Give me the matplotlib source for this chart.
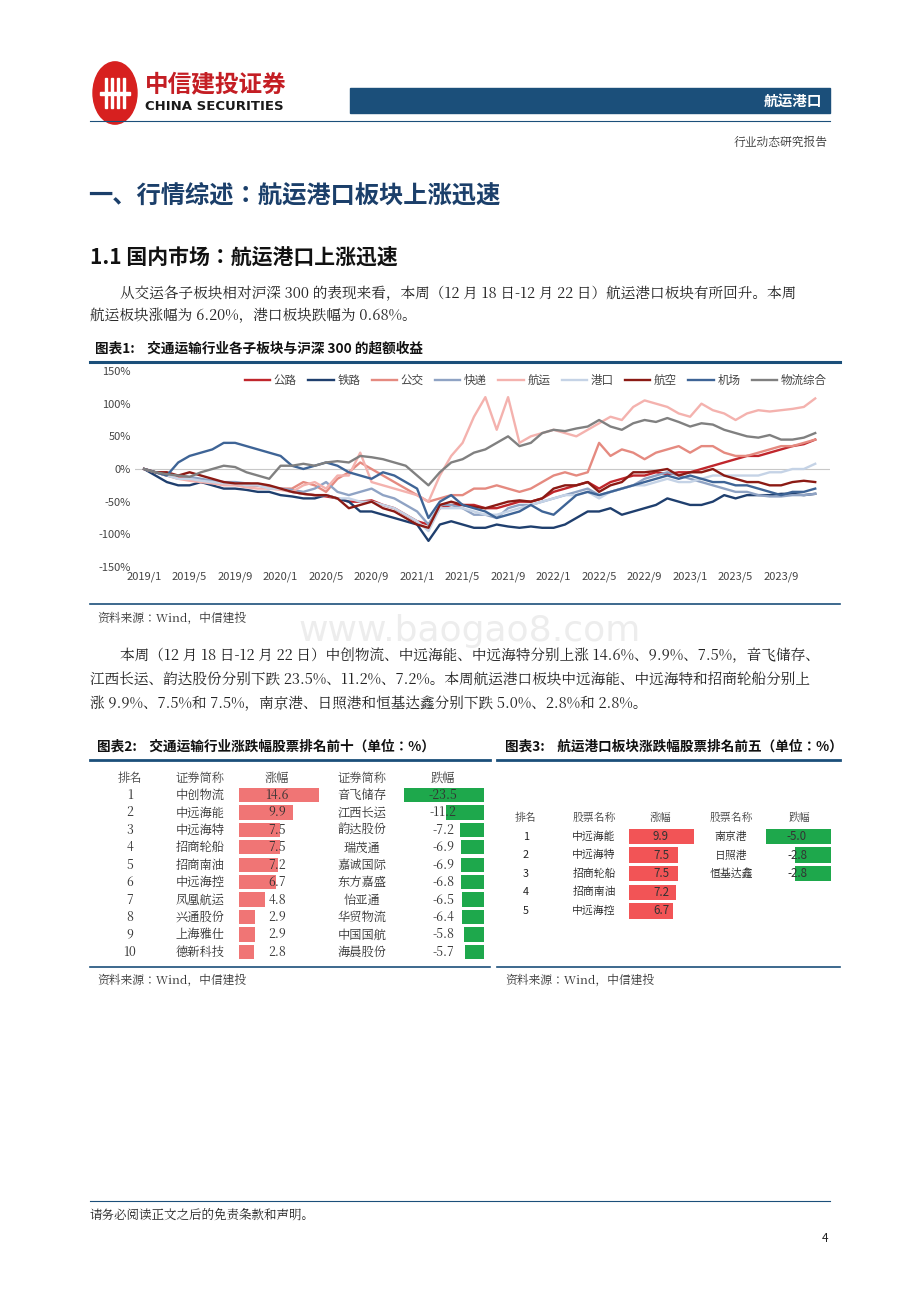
import glob
import matplotlib
matplotlib.use("Agg")
import matplotlib.pyplot as plt
from matplotlib import font_manager as fm
from matplotlib.lines import Line2D
from matplotlib.patches import Circle, Rectangle

def _reg(pattern, fallback):
    files = glob.glob("/usr/share/fonts/**/" + pattern, recursive=True)
    for f in files:
        try:
            fm.fontManager.addfont(f)
            return fm.FontProperties(fname=f).get_name()
        except Exception:
            pass
    return fallback

SANS = _reg("NotoSansCJK-Regular.ttc", "Noto Sans CJK SC")
_reg("NotoSansCJK-Bold.ttc", SANS)
SERIF = _reg("NotoSerifCJK-Regular.ttc", SANS)
_reg("NotoSerifCJK-Bold.ttc", SERIF)
plt.rcParams["font.family"] = [SANS, "DejaVu Sans"]

# ---------------- data ----------------
months = list(range(60))  # 2019/1 .. 2023/12
xtick_pos = [0, 4, 8, 12, 16, 20, 24, 28, 32, 36, 40, 44, 48, 52, 56]
xtick_labels = ["2019/1", "2019/5", "2019/9", "2020/1", "2020/5", "2020/9", "2021/1", "2021/5",
                "2021/9", "2022/1", "2022/5", "2022/9", "2023/1", "2023/5", "2023/9"]
ytick_vals = [-150, -100, -50, 0, 50, 100, 150]

gonglu = [0,-5,-10,-12,-15,-20,-22,-22,-22,-25,-25,-28,-30,-35,-38,-40,-42,-45,-50,-50,-48,-55,-60,-70,-80,-85,-60,-55,-55,-55,-60,-60,-55,-50,-50,-45,-35,-30,-25,-20,-30,-20,-15,-10,-10,-5,-8,-5,-5,0,5,10,15,20,20,25,30,35,38,45]
tielu = [0,-10,-20,-25,-25,-20,-25,-30,-30,-32,-35,-35,-40,-42,-45,-45,-40,-45,-50,-65,-65,-70,-75,-80,-85,-110,-85,-80,-85,-90,-90,-85,-88,-90,-88,-90,-90,-85,-75,-65,-65,-60,-70,-65,-60,-55,-45,-50,-55,-55,-50,-40,-45,-40,-40,-40,-38,-38,-40,-38]
gongjiao = [0,-5,-10,-15,-15,-18,-20,-20,-22,-22,-25,-28,-30,-30,-20,-25,-35,-15,-5,10,0,-10,-20,-30,-40,-50,-45,-40,-40,-30,-30,-25,-30,-35,-30,-20,-10,-5,-10,-5,40,20,30,25,15,25,30,35,25,35,35,25,20,20,25,30,35,35,40,45]
kuaidi = [0,-5,-10,-10,-12,-15,-18,-20,-20,-22,-25,-30,-30,-32,-35,-30,-20,-35,-40,-35,-30,-40,-45,-55,-65,-85,-55,-55,-60,-70,-70,-75,-60,-55,-55,-50,-45,-40,-35,-30,-40,-35,-30,-25,-15,-10,-5,-10,-15,-20,-25,-30,-35,-35,-40,-42,-42,-40,-40,-38]
hangyun = [0,-5,-8,-15,-18,-20,-22,-25,-25,-28,-30,-30,-32,-35,-25,-20,-30,-10,-10,25,-20,-25,-30,-35,-40,-50,-10,20,40,80,110,60,110,40,50,55,60,55,50,60,70,80,75,95,105,100,95,85,80,100,90,85,75,85,90,88,90,92,95,108]
gangkou = [0,-5,-10,-15,-15,-18,-20,-22,-22,-25,-25,-30,-30,-35,-38,-40,-40,-45,-45,-50,-50,-55,-60,-70,-80,-95,-60,-60,-60,-65,-70,-70,-65,-60,-55,-50,-45,-40,-40,-35,-45,-35,-30,-25,-25,-20,-15,-20,-20,-15,-10,-10,-10,-10,-10,-5,-5,0,0,8]
hangkong = [0,-5,-5,-10,-5,-10,-15,-20,-22,-22,-22,-25,-30,-35,-38,-40,-40,-45,-60,-55,-50,-60,-65,-75,-85,-90,-55,-50,-55,-58,-60,-55,-50,-48,-50,-45,-30,-25,-25,-20,-35,-25,-20,-5,-5,-3,0,-10,-5,-5,0,-10,-15,-20,-20,-25,-25,-20,-18,-20]
jichang = [0,-5,-10,10,20,25,30,40,40,35,30,25,20,5,0,5,10,5,-5,-10,-15,-5,-10,-20,-30,-75,-50,-40,-55,-60,-65,-75,-70,-65,-55,-65,-70,-55,-40,-35,-40,-35,-30,-25,-20,-15,-10,-15,-10,-15,-20,-20,-25,-25,-30,-35,-40,-35,-35,-30]
wuliu = [0,-5,-8,-10,-12,-5,0,5,3,-5,-10,-15,5,5,8,5,10,12,10,20,18,15,10,5,-10,-25,-5,10,15,25,30,40,50,35,40,55,60,58,62,65,75,65,60,70,75,72,78,72,65,70,68,60,55,50,48,52,45,45,48,55]

series_names = ["公路", "铁路", "公交", "快递", "航运", "港口", "航空", "机场", "物流综合"]
series_values = [gonglu, tielu, gongjiao, kuaidi, hangyun, gangkou, hangkong, jichang, wuliu]
series_colors = ["#C0262C", "#1F3F6E", "#E58A80", "#8FA3C4", "#F4B2AE", "#C5D3E6", "#8B1A14", "#3E6496", "#808080"]

t2_rank = ["1", "2", "3", "4", "5", "6", "7", "8", "9", "10"]
t2_up_names = ["中创物流", "中远海能", "中远海特", "招商轮船", "招商南油", "中远海控", "凤凰航运", "兴通股份", "上海雅仕", "德新科技"]
t2_up_vals = [14.6, 9.9, 7.5, 7.5, 7.2, 6.7, 4.8, 2.9, 2.9, 2.8]
t2_dn_names = ["音飞储存", "江西长运", "韵达股份", "瑞茂通", "嘉诚国际", "东方嘉盛", "怡亚通", "华贸物流", "中国国航", "海晨股份"]
t2_dn_vals = [-23.5, -11.2, -7.2, -6.9, -6.9, -6.8, -6.5, -6.4, -5.8, -5.7]

t3_rank = ["1", "2", "3", "4", "5"]
t3_up_names = ["中远海能", "中远海特", "招商轮船", "招商南油", "中远海控"]
t3_up_vals = [9.9, 7.5, 7.5, 7.2, 6.7]
t3_dn_names = ["南京港", "日照港", "恒基达鑫"]
t3_dn_vals = [-5.0, -2.8, -2.8]

# ---------------- figure helpers ----------------
W, H = 920, 1302
fig = plt.figure(figsize=(W / 100, H / 100), dpi=100)
NAVY = "#1B4F7A"

def T(x, y, s, size=9.5, **kw):
    kw.setdefault("va", "center")
    kw.setdefault("color", "#222222")
    return fig.text(x / W, 1 - y / H, s, fontsize=size, **kw)

def HL(x1, x2, y, lw=1.0, color="#1F3F6E"):
    fig.add_artist(Line2D([x1 / W, x2 / W], [1 - y / H] * 2, transform=fig.transFigure, lw=lw, color=color))

def AX(l, t, r, b):
    return fig.add_axes([l / W, 1 - b / H, (r - l) / W, (b - t) / H])

# ---------------- header ----------------
fig.add_artist(Circle((115 / W, 1 - 93 / H), 22 / W, transform=fig.transFigure, color="#D7201F"))
for dx in (-9, -3, 3, 9):
    fig.add_artist(Rectangle(((115 + dx - 1.3) / W, 1 - 108 / H), 2.6 / W, 30 / H,
                             transform=fig.transFigure, color="white"))
fig.add_artist(Rectangle((100 / W, 1 - 95 / H), 30 / W, 3 / H, transform=fig.transFigure, color="white"))
T(145, 84, "中信建投证券", 17, weight="bold", color="#C41E24")
T(145, 106, "CHINA SECURITIES", 9.5, weight="bold", color="#1A1A1A", family="DejaVu Sans")
fig.add_artist(Rectangle((350 / W, 1 - 113 / H), 480 / W, 25 / H, transform=fig.transFigure, color=NAVY))
T(822, 101, "航运港口", 10.5, ha="right", color="white", weight="bold")
HL(90, 830, 121, 0.8, "#1B4F7A")
T(828, 143, "行业动态研究报告", 8.5, ha="right", color="#333333", family=SERIF)

T(88, 197, "一、行情综述：航运港口板块上涨迅速", 17.5, weight="bold", color="#1B3F6A")
T(90, 257, "1.1 国内市场：航运港口上涨迅速", 15, weight="bold", color="#111111")
T(120, 294, "从交运各子板块相对沪深 300 的表现来看，本周（12 月 18 日-12 月 22 日）航运港口板块有所回升。本周", 10.5, family=SERIF)
T(90, 316, "航运板块涨幅为 6.20%，港口板块跌幅为 0.68%。", 10.5, family=SERIF)

T(95, 349, "图表1:    交通运输行业各子板块与沪深 300 的超额收益", 9.8, weight="bold", color="#111111")
HL(90, 840, 362, 2.2, NAVY)

# ---------------- line chart ----------------
ax = AX(135, 371, 830, 567)
ax.axhline(0, color="#C8C8C8", lw=0.8, zorder=0)
for name, vals, col in zip(series_names, series_values, series_colors):
    ax.plot(months, vals, color=col, lw=1.7, label=name)
ax.set_ylim(-150, 150)
ax.set_xlim(-0.8, 60.3)
ax.set_yticks(ytick_vals)
ax.set_yticklabels([f"{v}%" for v in ytick_vals], fontsize=8, color="#444444")
ax.set_xticks(xtick_pos)
ax.set_xticklabels(xtick_labels, fontsize=8, color="#444444")
ax.tick_params(length=0, pad=3)
for s in ax.spines.values():
    s.set_visible(False)
ax.legend(loc="upper right", ncol=9, frameon=False, fontsize=8.3, handlelength=2.2,
          handletextpad=0.3, columnspacing=1.0, bbox_to_anchor=(1.01, 1.04), labelcolor="#444444")
ax.patch.set_alpha(0)

HL(90, 840, 604, 1.2, NAVY)
T(97, 618, "资料来源：Wind，中信建投", 8.5, style="italic", color="#333333", family=SERIF)

T(470, 631, "www.baogao8.com", 26, ha="center", color="#EDEDED", zorder=-5, family="DejaVu Sans")

T(120, 656, "本周（12 月 18 日-12 月 22 日）中创物流、中远海能、中远海特分别上涨 14.6%、9.9%、7.5%，音飞储存、", 10.5, family=SERIF)
T(90, 680, "江西长运、韵达股份分别下跌 23.5%、11.2%、7.2%。本周航运港口板块中远海能、中远海特和招商轮船分别上", 10.5, family=SERIF)
T(90, 704, "涨 9.9%、7.5%和 7.5%，南京港、日照港和恒基达鑫分别下跌 5.0%、2.8%和 2.8%。", 10.5, family=SERIF)

# ---------------- table 2 ----------------
T(97, 747, "图表2:    交通运输行业涨跌幅股票排名前十（单位：%）", 9.8, weight="bold", color="#111111")
HL(90, 490, 760, 2.0, NAVY)
HL(90, 490, 967, 1.2, NAVY)
T(97, 980, "资料来源：Wind，中信建投", 8.5, style="italic", color="#333333", family=SERIF)

ry0, rstep = 795, 17.44
hy = 778
for x, s in [(130, "排名"), (200, "证券简称"), (277, "涨幅"), (362, "证券简称"), (443, "跌幅")]:
    T(x, hy, s, 8.8, ha="center", color="#444444", family=SERIF)
for i in range(10):
    y = ry0 + i * rstep
    T(130, y, t2_rank[i], 8.8, ha="center", color="#333333", family=SERIF)
    T(200, y, t2_up_names[i], 8.8, ha="center", color="#333333", family=SERIF)
    T(362, y, t2_dn_names[i], 8.8, ha="center", color="#333333", family=SERIF)

rows10 = list(range(1, 11))
axu = AX(239, ry0 - rstep / 2, 339, ry0 + 9.5 * rstep)
axu.barh(rows10, t2_up_vals, height=0.82, color="#F07575")
axu.set_xlim(0, 100 / 5.48)
axu.set_ylim(10.5, 0.5)
axu.axis("off")
for r, v in zip(rows10, t2_up_vals):
    axu.text(38 / 5.48, r, f"{v:.1f}", ha="center", va="center", fontsize=8.8, color="#333333", family=SERIF)

axd = AX(404, ry0 - rstep / 2, 484, ry0 + 9.5 * rstep)
axd.barh(rows10, t2_dn_vals, height=0.82, color="#1EA84C")
axd.set_xlim(-80 / 3.4, 0)
axd.set_ylim(10.5, 0.5)
axd.axis("off")
for r, v in zip(rows10, t2_dn_vals):
    axd.text(-41 / 3.4, r, f"{v:.1f}", ha="center", va="center", fontsize=8.8, color="#333333", family=SERIF)

# ---------------- table 3 ----------------
T(505, 747, "图表3:    航运港口板块涨跌幅股票排名前五（单位：%）", 9.8, weight="bold", color="#111111")
HL(497, 840, 760, 2.0, NAVY)
HL(497, 840, 967, 1.2, NAVY)
T(505, 980, "资料来源：Wind，中信建投", 8.5, style="italic", color="#333333", family=SERIF)

r3y0, r3step = 836.5, 18.6
for x, s in [(526, "排名"), (594, "股票名称"), (661, "涨幅"), (731, "股票名称"), (800, "跌幅")]:
    T(x, 818, s, 7.8, ha="center", color="#444444", family=SERIF)
for i in range(5):
    y = r3y0 + i * r3step
    T(526, y, t3_rank[i], 7.8, ha="center", color="#222222")
    T(594, y, t3_up_names[i], 7.8, ha="center", color="#222222", family=SERIF)
for i in range(3):
    T(731, r3y0 + i * r3step, t3_dn_names[i], 7.8, ha="center", color="#222222", family=SERIF)

rows5 = list(range(1, 6))
ax3u = AX(629, r3y0 - r3step / 2, 699, r3y0 + 4.5 * r3step)
ax3u.barh(rows5, t3_up_vals, height=0.82, color="#F25456")
ax3u.set_xlim(0, 70 / 6.57)
ax3u.set_ylim(5.5, 0.5)
ax3u.axis("off")
for r, v in zip(rows5, t3_up_vals):
    ax3u.text(32 / 6.57, r, f"{v:.1f}", ha="center", va="center", fontsize=8.3, color="#333333")

rows3 = list(range(1, 4))
ax3d = AX(766, r3y0 - r3step / 2, 831, r3y0 + 4.5 * r3step)
ax3d.barh(rows3, t3_dn_vals, height=0.82, color="#1EA84C")
ax3d.set_xlim(-65 / 13, 0)
ax3d.set_ylim(5.5, 0.5)
ax3d.axis("off")
for r, v in zip(rows3, t3_dn_vals):
    ax3d.text(-34 / 13, r, f"{v:.1f}", ha="center", va="center", fontsize=8.3, color="#333333")

# ---------------- footer ----------------
HL(90, 830, 1201, 0.8, NAVY)
T(90, 1215, "请务必阅读正文之后的免责条款和声明。", 9, color="#222222", family=SERIF)
T(828, 1238, "4", 8.5, ha="right", color="#222222")

fig.savefig("out.png", dpi=100, facecolor="white")
